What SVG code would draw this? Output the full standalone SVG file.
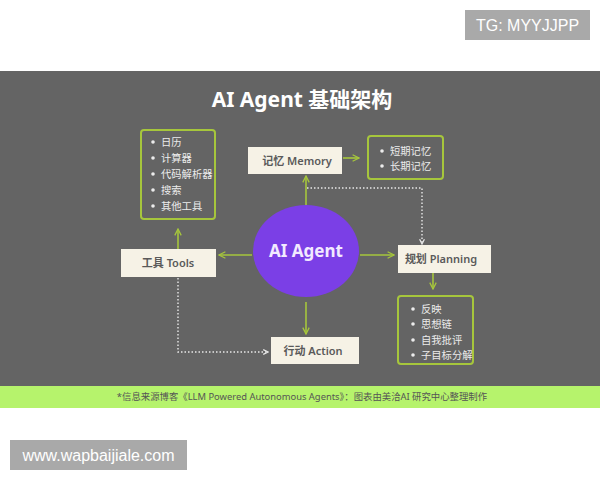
<svg xmlns="http://www.w3.org/2000/svg" width="600" height="480" viewBox="0 0 600 480">
<defs>
<marker id="ga" viewBox="0 0 10 10" refX="9" refY="5" markerWidth="8" markerHeight="8" markerUnits="userSpaceOnUse" orient="auto">
<path d="M1,1 L9,5 L1,9" fill="none" stroke="#a6c63c" stroke-width="1.6"/>
</marker>
<marker id="wa" viewBox="0 0 10 10" refX="9" refY="5" markerWidth="6" markerHeight="6" markerUnits="userSpaceOnUse" orient="auto">
<path d="M1,1 L9,5 L1,9" fill="none" stroke="#e8e8e8" stroke-width="2"/>
</marker>
</defs>
<style>
.t{font-family:"Noto Sans","Noto Sans CJK SC",sans-serif}
.box{fill:#f6f2e6}
.bl{font-size:11px;font-weight:600;fill:#5a5a5a}
.lst{fill:none;stroke:#a6c63c;stroke-width:2}
.li{font-size:10.3px;fill:#ececec}
.dot{fill:#ececec}
.g{fill:none;stroke:#a6c63c;stroke-width:1.6;marker-end:url(#ga)}
.w{fill:none;stroke:#e8e8e8;stroke-width:1.4;stroke-dasharray:1.5 2;marker-end:url(#wa)}
</style>
<rect width="600" height="480" fill="#ffffff"/>
<g id="tg">
<rect x="465" y="10" width="125" height="30" fill="#a9a9a9"/>
<text x="527.5" y="31" text-anchor="middle" font-family="Liberation Sans, Arial, sans-serif" font-size="16" fill="#ffffff">TG: MYYJJPP</text>
</g>
<rect x="0" y="71" width="600" height="315" fill="#646464"/>
<text class="t" x="302" y="107" text-anchor="middle" font-size="21" font-weight="700" fill="#ffffff">AI Agent 基础架构</text>

<g id="connectors">
<line class="g" x1="306" y1="205" x2="306" y2="176"/>
<line class="g" x1="343" y1="158" x2="359" y2="158"/>
<line class="g" x1="252" y1="255" x2="219" y2="255"/>
<line class="g" x1="178" y1="249" x2="178" y2="229"/>
<line class="g" x1="360" y1="255" x2="394" y2="255"/>
<line class="g" x1="433" y1="273" x2="433" y2="289"/>
<line class="g" x1="306" y1="302" x2="306" y2="334"/>
<polyline class="w" points="307,188 422,188 422,244"/>
<polyline class="w" points="178,278 178,352 268,352"/>
</g>

<g id="tools-list">
<rect class="lst" x="141" y="130" width="74" height="89" rx="3"/>
<circle class="dot" cx="153" cy="142" r="1.8"/><text class="t li" x="161" y="145.5">日历</text>
<circle class="dot" cx="153" cy="158" r="1.8"/><text class="t li" x="161" y="161.5">计算器</text>
<circle class="dot" cx="153" cy="174" r="1.8"/><text class="t li" x="161" y="177.5">代码解析器</text>
<circle class="dot" cx="153" cy="190" r="1.8"/><text class="t li" x="161" y="193.5">搜索</text>
<circle class="dot" cx="153" cy="206" r="1.8"/><text class="t li" x="161" y="209.5">其他工具</text>
</g>

<g id="memory">
<rect class="box" x="248" y="147" width="94" height="27"/>
<text class="t bl" x="297" y="164.5" text-anchor="middle">记忆 Memory</text>
</g>

<g id="memory-list">
<rect class="lst" x="368" y="136" width="75" height="43" rx="3"/>
<circle class="dot" cx="382" cy="151" r="1.8"/><text class="t li" x="390" y="154.5">短期记忆</text>
<circle class="dot" cx="382" cy="166" r="1.8"/><text class="t li" x="390" y="169.5">长期记忆</text>
</g>

<g id="agent">
<ellipse cx="306" cy="251" rx="53" ry="46" fill="#7b3fe6"/>
<text class="t" x="306" y="257" text-anchor="middle" font-size="17" font-weight="700" fill="#f2eaff">AI Agent</text>
</g>

<g id="tools">
<rect class="box" x="121" y="249" width="95" height="28"/>
<text class="t bl" x="168" y="267" text-anchor="middle">工具 Tools</text>
</g>

<g id="planning">
<rect class="box" x="398" y="245" width="93" height="28"/>
<text class="t bl" x="441" y="263" text-anchor="middle">规划 Planning</text>
</g>

<g id="planning-list">
<rect class="lst" x="398" y="296" width="75" height="68" rx="3"/>
<circle class="dot" cx="413" cy="309" r="1.8"/><text class="t li" x="421" y="312.5">反映</text>
<circle class="dot" cx="413" cy="324" r="1.8"/><text class="t li" x="421" y="327.5">思想链</text>
<circle class="dot" cx="413" cy="340" r="1.8"/><text class="t li" x="421" y="343.5">自我批评</text>
<circle class="dot" cx="413" cy="355" r="1.8"/><text class="t li" x="421" y="358.5">子目标分解</text>
</g>

<g id="action">
<rect class="box" x="271" y="337" width="88" height="27"/>
<text class="t bl" x="313" y="354.5" text-anchor="middle">行动 Action</text>
</g>

<rect x="0" y="386" width="600" height="22" fill="#b6f36c"/>
<text class="t" x="302" y="400" text-anchor="middle" font-size="9.4" fill="#555555">*信息来源博客《LLM Powered Autonomous Agents》：图表由美洽AI 研究中心整理制作</text>

<g id="www">
<rect x="10" y="440" width="177" height="30" fill="#a9a9a9"/>
<text x="98.5" y="461" text-anchor="middle" font-family="Liberation Sans, Arial, sans-serif" font-size="16" fill="#ffffff">www.wapbaijiale.com</text>
</g>
</svg>
